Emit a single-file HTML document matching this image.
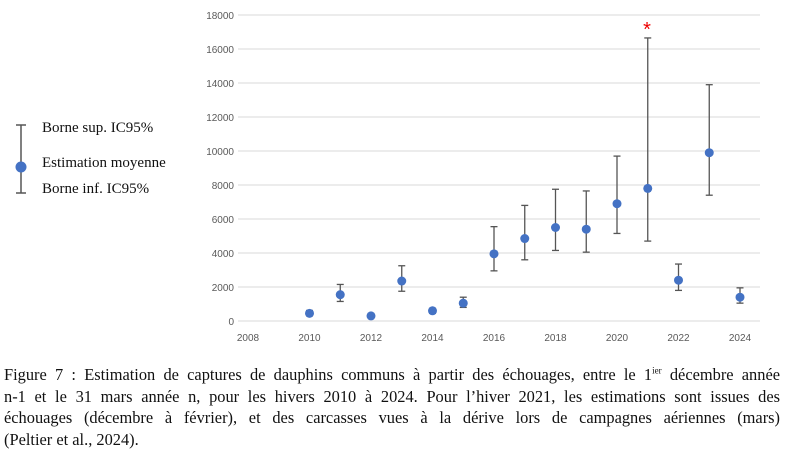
<!DOCTYPE html>
<html><head><meta charset="utf-8"><style>
body{margin:0;width:786px;height:456px;background:#fff;overflow:hidden;font-family:"Liberation Serif",serif;}
#cap{position:absolute;left:4px;top:364px;width:776px;font-size:16.4px;line-height:21.6px;color:#111;}
#cap span{display:block;white-space:nowrap;text-align:justify;text-align-last:justify;}
#cap span.last{text-align-last:left;}
</style></head><body>
<svg width="786" height="360" style="position:absolute;left:0;top:0">
<g id="grid"></g><g id="marks"></g>
<g>
<line x1="21" y1="125" x2="21" y2="193" stroke="#555" stroke-width="1.5"/>
<line x1="16" y1="125" x2="26" y2="125" stroke="#555" stroke-width="1.5"/>
<line x1="16" y1="193" x2="26" y2="193" stroke="#555" stroke-width="1.5"/>
<circle cx="21" cy="167" r="5.5" fill="#4472c4"/>
<text x="42" y="132" font-size="15" font-family="Liberation Serif" fill="#111">Borne sup. IC95%</text>
<text x="42" y="167" font-size="15" font-family="Liberation Serif" fill="#111">Estimation moyenne</text>
<text x="42" y="193" font-size="15" font-family="Liberation Serif" fill="#111">Borne inf. IC95%</text>
</g>
<text x="647" y="36" font-size="20" fill="#e00" text-anchor="middle" font-family="Liberation Sans">*</text>
</svg>
<div id="cap"><span>Figure 7 : Estimation de captures de dauphins communs à partir des échouages, entre le 1<sup style="font-size:9px;line-height:0">ier</sup> décembre année</span><span>n-1 et le 31 mars année n, pour les hivers 2010 à 2024. Pour l’hiver 2021, les estimations sont issues des</span><span>échouages (décembre à février), et des carcasses vues à la dérive lors de campagnes aériennes (mars)</span><span class="last">(Peltier et al., 2024).</span></div>
<script>
const years=[2010,2011,2012,2013,2014,2015,2016,2017,2018,2019,2020,2021,2022,2023,2024];
const means=[450,1550,300,2350,600,1050,3950,4850,5500,5400,6900,7800,2400,9900,1400];
const lows=[300,1150,250,1750,450,800,2950,3600,4150,4050,5150,4700,1800,7400,1050];
const highs=[620,2150,350,3250,750,1400,5550,6800,7750,7650,9700,16650,3350,13900,1950];
const yTicks=[0,2000,4000,6000,8000,10000,12000,14000,16000,18000];
const xTicks=[2008,2010,2012,2014,2016,2018,2020,2022,2024];
const X=v=>248+(v-2008)*30.75, Y=v=>321-v*(306/18000);
const NS='http://www.w3.org/2000/svg';
const grid=document.getElementById('grid'),marks=document.getElementById('marks');
function mk(p,tag,a){const e=document.createElementNS(NS,tag);for(const k in a)e.setAttribute(k,a[k]);p.appendChild(e);return e;}
yTicks.forEach(t=>{
 const l=mk(grid,'line',{x1:238,x2:760,y1:Y(t),y2:Y(t),stroke:'#d9d9d9','stroke-width':1});
 
 
 const tx=mk(grid,'text',{x:234,y:Y(t)+4,'text-anchor':'end','font-size':10,'font-family':'Liberation Sans',fill:'#595959'});
 tx.textContent=t;
 
 
});
xTicks.forEach(t=>{
 const tx=mk(grid,'text',{x:X(t),y:341,'text-anchor':'middle','font-size':10,'font-family':'Liberation Sans',fill:'#595959'});
 tx.textContent=t;
 
 
});
years.forEach((yr,i)=>{
 const g=mk(marks,'g',{});
 
 
 const x=X(yr),s={stroke:'#555','stroke-width':1.3};
 mk(g,'line',Object.assign({x1:x,x2:x,y1:Y(lows[i]),y2:Y(highs[i])},s));
 mk(g,'line',Object.assign({x1:x-3.5,x2:x+3.5,y1:Y(lows[i]),y2:Y(lows[i])},s));
 mk(g,'line',Object.assign({x1:x-3.5,x2:x+3.5,y1:Y(highs[i]),y2:Y(highs[i])},s));
 mk(g,'circle',{cx:x,cy:Y(means[i]),r:4.5,fill:'#4472c4'});
});
</script>
</body></html>
